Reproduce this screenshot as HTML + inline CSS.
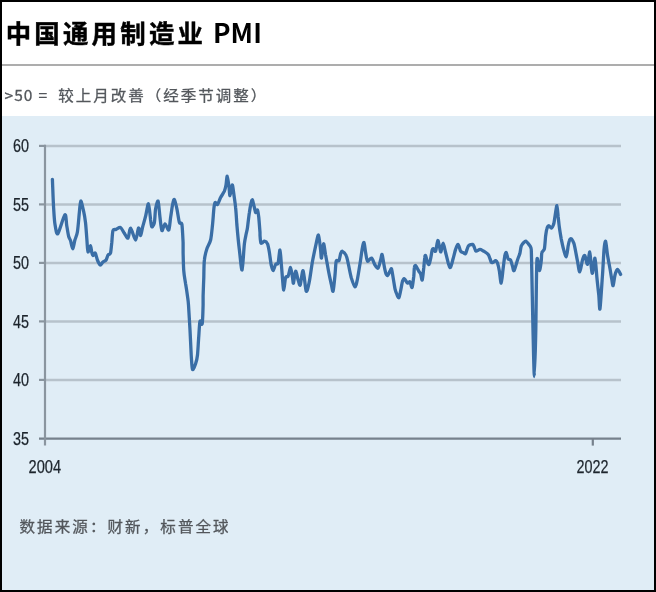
<!DOCTYPE html>
<html lang="zh-CN">
<head>
<meta charset="utf-8">
<title>中国通用制造业 PMI</title>
<style>
html,body{margin:0;padding:0;}
body{width:656px;height:592px;overflow:hidden;background:#000;position:relative;font-family:"Liberation Sans","Noto Sans CJK SC",sans-serif;}
#frame{position:absolute;left:2px;top:2px;width:652px;height:588px;background:#fff;overflow:hidden;}
#title{position:absolute;left:3.7px;top:9.8px;margin:0;font-family:"Noto Sans CJK SC","Liberation Sans",sans-serif;font-weight:700;font-size:25.4px;line-height:40px;color:#000;white-space:nowrap;letter-spacing:3.25px;-webkit-text-stroke:0.45px #000;}
#title span{font-size:26.3px;letter-spacing:0.15px;margin-left:-2.3px;-webkit-text-stroke:0;position:relative;top:0.4px;}
#rule{position:absolute;left:0;top:62px;width:652px;height:2px;background:#adadad;}
#sub{transform:scaleY(0.93);transform-origin:0 50%;font-weight:400;-webkit-text-stroke:0.3px #53575c;position:absolute;left:2.6px;top:79.8px;margin:0;font-family:"Noto Sans CJK SC","Liberation Sans",sans-serif;font-size:15.5px;line-height:24px;color:#53575c;letter-spacing:2px;white-space:nowrap;}
#sub span{letter-spacing:0.95px;margin-right:4.6px;word-spacing:0.9px;}
#chart{position:absolute;left:0;top:114px;width:652px;height:474px;background:#e0edf6;}
#chart svg{position:absolute;left:-2px;top:-116px;}
#src{transform:scaleY(0.93);transform-origin:0 50%;font-weight:400;-webkit-text-stroke:0.3px #53575c;position:absolute;left:17.5px;top:511.3px;margin:0;font-family:"Noto Sans CJK SC","Liberation Sans",sans-serif;font-size:15.5px;line-height:24px;color:#53575c;letter-spacing:2.1px;white-space:nowrap;}
.ax{font-family:"Liberation Sans",sans-serif;font-size:18px;fill:#1c242c;stroke:#1c242c;stroke-width:0.25px;}
</style>
</head>
<body>
<div id="frame">
<h1 id="title">中国通用制造业 <span>PMI</span></h1>
<div id="rule"></div>
<p id="sub"><span>&gt;50 =</span> 较上月改善（经季节调整）</p>
<div id="chart">
<svg width="656" height="592" viewBox="0 0 656 592">
<g stroke="#b7c2cb" stroke-width="2.5">
<line x1="45" y1="145.9" x2="621" y2="145.9"/>
<line x1="45" y1="204.4" x2="621" y2="204.4"/>
<line x1="45" y1="262.9" x2="621" y2="262.9"/>
<line x1="45" y1="321.4" x2="621" y2="321.4"/>
<line x1="45" y1="379.9" x2="621" y2="379.9"/>
</g>
<g stroke="#8a959f" stroke-width="2.2">
<line x1="39" y1="145.9" x2="45" y2="145.9"/>
<line x1="39" y1="204.4" x2="45" y2="204.4"/>
<line x1="39" y1="262.9" x2="45" y2="262.9"/>
<line x1="39" y1="321.4" x2="45" y2="321.4"/>
<line x1="39" y1="379.9" x2="45" y2="379.9"/>
<line x1="39" y1="438.7" x2="621" y2="438.7" stroke="#76818c" stroke-width="2.2"/>
<line x1="45" y1="144.7" x2="45" y2="445.6"/>
<line x1="592.8" y1="438" x2="592.8" y2="445.6" stroke="#76818c"/>
</g>
<g class="ax" text-anchor="end">
<text x="29" y="152" textLength="16" lengthAdjust="spacingAndGlyphs">60</text>
<text x="29" y="210.5" textLength="16" lengthAdjust="spacingAndGlyphs">55</text>
<text x="29" y="269" textLength="16" lengthAdjust="spacingAndGlyphs">50</text>
<text x="29" y="327.5" textLength="16" lengthAdjust="spacingAndGlyphs">45</text>
<text x="29" y="386" textLength="16" lengthAdjust="spacingAndGlyphs">40</text>
<text x="29" y="444.5" textLength="16" lengthAdjust="spacingAndGlyphs">35</text>
</g>
<g class="ax" text-anchor="middle">
<text x="44.8" y="473.4" textLength="32.5" lengthAdjust="spacingAndGlyphs">2004</text>
<text x="592.6" y="473.4" textLength="32" lengthAdjust="spacingAndGlyphs">2022</text>
</g>
<path id="pmi" fill="none" stroke="#3a6ea6" stroke-width="3.3" stroke-linejoin="round" stroke-linecap="round" d="M52.4,179.4C52.6,183.3 53.2,201.3 53.6,207.5C54.0,213.7 54.3,220.1 54.9,223.8C55.5,227.4 56.4,235.0 57.8,233.8C59.1,232.5 63.6,215.8 64.9,214.7C66.2,213.6 66.2,223.0 66.8,226.0C67.3,229.0 68.1,234.2 68.6,236.2C69.1,238.3 69.9,238.8 70.5,240.6C71.1,242.3 72.1,248.8 72.8,248.8C73.4,248.7 74.2,242.3 74.9,240.0C75.6,237.7 76.8,235.6 77.4,232.0C78.0,228.4 78.8,218.3 79.2,214.0C79.7,209.7 80.1,201.4 80.8,201.0C81.4,200.6 82.9,208.2 83.6,211.2C84.3,214.3 85.0,218.3 85.5,222.5C86.0,226.7 86.7,237.1 87.0,241.2C87.3,245.4 87.5,251.3 88.0,251.9C88.5,252.5 90.0,245.5 90.5,245.6C91.0,245.7 91.4,251.1 91.8,252.5C92.1,253.9 92.5,255.5 93.0,255.6C93.5,255.7 94.6,252.5 95.2,253.1C95.9,253.7 96.7,258.3 97.4,260.0C98.1,261.7 99.5,264.7 100.2,265.0C101.0,265.3 102.2,262.6 103.0,261.9C103.8,261.2 105.4,261.0 106.1,260.0C106.8,259.0 107.4,256.0 108.0,255.0C108.6,254.0 110.0,254.8 110.5,253.1C111.0,251.3 111.4,245.7 111.8,242.5C112.1,239.3 112.4,232.4 113.0,230.6C113.6,228.8 115.0,229.8 116.1,229.4C117.1,229.0 119.4,227.0 120.5,227.5C121.6,228.0 123.2,231.6 124.2,233.1C125.3,234.6 127.1,238.8 128.0,238.1C128.9,237.4 129.6,227.9 130.6,228.1C131.7,228.4 134.5,240.0 135.6,240.0C136.7,240.0 137.8,228.7 138.5,228.1C139.2,227.5 140.1,235.7 140.6,235.6C141.2,235.5 141.8,230.2 142.5,227.5C143.2,224.8 144.8,219.6 145.6,216.2C146.5,212.9 147.8,203.2 148.5,203.8C149.2,204.3 150.2,216.8 150.6,220.0C151.1,223.2 151.3,226.5 151.9,226.9C152.4,227.2 153.8,225.0 154.4,222.5C154.9,220.0 155.1,211.7 155.6,208.8C156.2,205.8 157.5,200.0 158.1,201.2C158.7,202.5 159.5,213.4 160.0,217.5C160.5,221.6 161.2,229.8 161.9,230.6C162.6,231.5 164.0,223.8 165.0,223.8C166.0,223.7 168.0,230.9 168.8,230.0C169.5,229.1 170.1,221.0 170.6,217.5C171.2,214.0 172.0,207.5 172.5,205.0C173.0,202.5 173.8,198.8 174.4,199.4C175.0,199.9 176.2,205.5 176.9,208.8C177.6,212.0 178.7,220.3 179.4,222.5C180.1,224.7 181.3,221.6 181.9,224.4C182.4,227.2 182.9,238.6 183.1,242.5C183.1,246.4 183.1,248.5 183.1,252.5C183.2,256.5 183.4,266.9 183.8,271.2C184.1,275.6 185.1,280.2 185.6,283.8C186.2,287.2 187.1,293.3 187.5,296.2C187.9,299.2 188.2,300.3 188.5,305.0C188.8,309.7 189.6,323.0 190.0,330.0C190.4,337.0 190.9,349.5 191.2,355.0C191.6,360.5 191.9,368.1 192.5,369.4C193.1,370.6 194.9,365.8 195.6,363.8C196.3,361.7 197.1,358.9 197.5,355.0C197.9,351.1 198.4,341.0 198.8,336.2C199.1,331.5 199.5,323.0 200.0,321.2C200.5,319.5 201.8,326.0 202.2,323.8C202.7,321.5 203.0,308.9 203.1,305.0C203.1,301.1 203.1,300.1 203.1,296.2C203.2,292.4 203.6,282.6 203.8,277.5C203.9,272.4 203.9,264.0 204.4,260.0C204.8,256.0 206.0,251.6 206.9,248.8C207.8,245.9 209.8,243.3 210.6,240.0C211.4,236.7 212.0,229.6 212.5,225.0C213.0,220.4 213.6,210.7 214.0,207.5C214.4,204.3 214.8,202.9 215.2,202.5C215.7,202.1 216.7,205.1 217.5,204.4C218.3,203.7 219.7,199.3 220.6,197.5C221.6,195.7 223.6,193.0 224.4,191.2C225.1,189.5 225.6,187.1 226.0,185.0C226.4,182.9 226.8,176.0 227.2,176.2C227.7,176.5 228.6,184.2 229.0,186.9C229.4,189.6 229.5,195.9 230.0,195.6C230.5,195.4 231.7,185.3 232.2,185.0C232.8,184.7 233.3,190.6 233.8,193.8C234.2,196.9 235.2,203.1 235.6,207.5C236.1,211.9 236.7,222.6 236.9,225.0C236.9,227.4 236.9,221.5 236.9,225.0C237.2,228.5 238.6,243.7 239.4,250.0C240.1,256.3 241.4,270.9 242.1,270.0C242.8,269.1 243.8,248.8 244.4,243.8C245.0,238.7 245.8,236.0 246.2,233.8C246.7,231.5 247.1,230.5 247.5,227.5C247.9,224.5 248.8,216.0 249.4,212.5C249.9,209.0 250.8,204.2 251.2,202.5C251.7,200.8 252.1,199.3 252.5,200.0C252.9,200.7 253.9,205.8 254.4,207.5C254.8,209.2 255.2,212.2 255.6,212.5C256.1,212.8 257.1,209.3 257.5,210.0C257.9,210.7 258.4,214.3 258.8,217.5C259.1,220.7 259.8,230.1 260.0,232.5C260.0,234.9 260.0,233.5 260.0,235.0C260.1,236.5 260.4,242.2 261.0,243.1C261.6,244.0 263.5,241.2 264.4,241.2C265.3,241.3 266.8,242.2 267.5,243.8C268.2,245.3 268.9,249.5 269.4,252.5C269.9,255.5 270.7,262.5 271.2,265.0C271.8,267.5 272.5,270.7 273.1,270.6C273.7,270.5 274.9,265.4 275.6,264.4C276.3,263.3 277.5,265.1 278.1,263.1C278.7,261.1 279.5,249.6 280.0,250.0C280.5,250.4 281.1,262.2 281.5,266.2C281.9,270.3 282.2,275.4 282.5,278.8C282.8,282.1 283.3,290.2 283.8,290.0C284.2,289.8 285.0,279.4 285.6,277.5C286.2,275.6 287.4,277.6 288.1,276.2C288.8,274.9 290.0,267.3 290.6,267.5C291.2,267.7 292.1,275.3 292.5,277.5C292.9,279.7 293.1,284.0 293.5,283.1C293.9,282.2 295.0,271.7 295.6,271.2C296.3,270.8 297.5,278.1 298.1,280.0C298.8,281.9 299.6,286.3 300.2,285.0C300.9,283.7 302.3,269.8 303.1,270.6C304.0,271.5 305.4,289.8 306.2,291.2C307.1,292.7 308.5,285.4 309.4,281.2C310.2,277.1 311.6,266.1 312.5,261.2C313.4,256.4 314.8,249.9 315.6,246.2C316.5,242.6 317.8,234.5 318.5,235.0C319.2,235.5 320.2,246.8 320.6,250.0C321.0,253.2 321.1,259.0 321.5,258.1C321.9,257.2 322.9,244.2 323.5,243.8C324.1,243.3 324.9,251.0 325.6,255.0C326.4,259.0 328.0,268.5 328.8,272.5C329.5,276.5 330.6,281.1 331.2,283.8C331.9,286.4 332.6,292.5 333.1,291.2C333.6,290.0 334.6,279.2 335.0,275.0C335.4,270.8 335.7,263.3 336.2,261.2C336.8,259.2 338.4,261.7 339.0,260.6C339.6,259.6 340.2,255.1 340.6,253.8C341.1,252.4 341.5,251.0 342.2,251.2C343.0,251.5 345.3,253.5 346.2,255.6C347.2,257.7 348.1,263.2 348.8,266.2C349.4,269.3 350.4,274.6 351.2,277.5C352.1,280.4 354.1,286.7 355.0,286.9C355.9,287.1 356.8,282.0 357.5,278.8C358.2,275.5 359.3,267.9 360.0,263.8C360.7,259.6 361.7,251.7 362.2,248.8C362.8,245.8 363.5,242.0 364.0,242.5C364.5,243.0 365.1,249.9 365.6,252.5C366.1,255.1 366.7,260.5 367.5,261.2C368.3,262.0 370.4,257.6 371.5,258.1C372.6,258.6 374.1,263.6 375.0,265.0C375.9,266.4 377.3,268.8 378.1,268.1C378.9,267.4 380.1,261.9 380.6,260.0C381.2,258.1 381.7,253.8 382.1,254.4C382.6,254.9 383.3,261.2 383.8,263.8C384.2,266.3 385.1,270.8 385.6,272.5C386.1,274.2 386.9,275.8 387.5,275.6C388.1,275.4 389.4,272.2 390.0,271.2C390.6,270.3 391.1,267.9 391.5,268.8C391.9,269.6 392.6,274.7 393.1,277.5C393.6,280.3 394.5,286.4 395.0,288.8C395.5,291.1 396.3,293.1 396.9,294.4C397.4,295.6 398.4,298.3 399.0,297.5C399.6,296.7 400.5,291.0 401.0,288.8C401.5,286.5 402.0,282.6 402.5,281.2C403.0,279.9 403.7,278.5 404.4,278.8C405.1,279.0 406.7,282.7 407.5,283.1C408.3,283.6 409.4,281.3 410.0,281.9C410.6,282.5 411.6,288.3 412.1,287.5C412.6,286.7 413.4,279.1 413.8,276.2C414.1,273.4 414.1,269.0 414.4,267.5C414.6,266.0 415.0,265.1 415.6,265.6C416.2,266.1 418.1,270.1 418.8,271.2C419.4,272.4 420.1,272.5 420.6,273.8C421.1,275.0 421.8,280.9 422.2,280.0C422.7,279.1 423.4,270.6 423.8,267.5C424.1,264.4 424.5,259.2 424.8,257.5C425.0,255.8 425.2,254.9 425.6,255.6C426.0,256.3 427.0,261.3 427.5,262.5C428.0,263.7 428.6,264.9 429.0,264.4C429.4,263.9 430.2,260.8 430.6,258.8C431.1,256.7 431.8,251.4 432.2,250.0C432.7,248.6 433.3,248.6 433.8,248.8C434.2,248.9 435.1,252.4 435.6,251.2C436.2,250.1 437.2,241.3 437.8,240.6C438.3,239.9 438.9,244.7 439.4,246.2C439.8,247.8 440.4,252.3 440.9,251.9C441.4,251.4 442.5,243.0 443.1,243.1C443.8,243.2 444.9,249.8 445.6,252.5C446.3,255.2 447.5,260.4 448.1,262.5C448.8,264.6 449.7,268.0 450.4,267.5C451.1,267.0 452.4,261.3 453.1,258.8C453.9,256.2 454.9,251.4 455.6,249.4C456.3,247.4 457.4,244.1 458.1,244.4C458.8,244.6 459.9,250.1 460.6,251.2C461.3,252.4 462.5,252.2 463.1,252.5C463.8,252.8 464.9,254.1 465.4,253.8C465.9,253.4 466.4,251.1 466.9,250.0C467.3,248.9 467.9,246.4 468.8,245.6C469.6,244.8 472.0,244.1 472.8,244.4C473.5,244.6 473.9,246.5 474.4,247.5C474.8,248.5 475.2,251.0 476.0,251.2C476.8,251.5 478.9,249.4 480.0,249.4C481.1,249.4 482.6,250.6 483.8,251.2C484.9,251.9 487.2,253.3 488.1,254.4C489.0,255.4 489.5,257.6 490.0,258.8C490.5,259.9 491.0,262.1 491.5,262.5C492.0,262.9 493.2,262.1 493.8,261.9C494.3,261.6 495.1,260.4 495.6,260.6C496.1,260.8 497.0,261.6 497.5,263.1C498.0,264.6 498.9,268.4 499.4,271.2C499.9,274.1 500.7,283.5 501.2,283.1C501.8,282.8 502.6,272.5 503.1,268.8C503.6,265.0 504.3,258.5 504.8,256.2C505.2,254.0 505.8,252.2 506.2,252.5C506.7,252.8 507.5,257.7 508.1,258.8C508.7,259.8 510.0,258.9 510.6,260.0C511.2,261.1 512.0,264.8 512.5,266.2C513.0,267.7 513.4,271.5 514.1,270.6C514.8,269.8 516.7,262.4 517.5,260.0C518.3,257.6 519.2,255.7 519.8,253.8C520.3,251.8 520.7,247.8 521.2,246.2C521.8,244.7 523.1,243.2 523.8,242.5C524.4,241.8 525.3,241.0 526.0,241.2C526.7,241.5 528.0,243.4 528.8,244.4C529.5,245.3 530.6,246.3 531.0,248.1C531.4,250.0 531.2,246.0 531.5,257.5C531.8,269.0 532.6,313.3 533.0,330.0C533.4,346.7 534.0,376.5 534.4,376.5C534.8,376.5 535.5,346.2 535.8,330.0C536.1,313.8 536.4,268.9 536.9,260.6C537.4,252.3 538.8,270.5 539.4,270.6C540.0,270.7 540.9,263.8 541.2,261.2C541.6,258.7 541.4,254.2 541.9,252.5C542.3,250.8 543.9,251.0 544.4,248.8C544.9,246.5 545.3,239.1 545.6,236.2C546.0,233.4 546.4,230.2 546.9,228.8C547.3,227.3 548.1,225.7 548.8,225.6C549.4,225.5 550.8,228.4 551.5,228.1C552.2,227.9 553.2,225.6 553.8,223.8C554.3,221.9 554.8,217.5 555.2,215.0C555.7,212.5 556.5,205.4 556.9,205.6C557.3,205.8 557.8,213.2 558.1,216.2C558.5,219.3 558.9,224.3 559.4,227.5C559.8,230.7 560.7,235.9 561.2,238.8C561.8,241.6 562.4,245.0 563.1,247.5C563.8,250.0 565.5,257.1 566.2,256.9C567.0,256.7 567.7,248.5 568.1,246.2C568.6,244.0 568.9,241.7 569.4,240.6C569.8,239.6 570.6,238.4 571.2,238.8C571.9,239.1 573.1,241.4 573.8,243.1C574.4,244.9 575.1,248.7 575.6,251.2C576.1,253.8 576.9,258.4 577.5,261.2C578.1,264.1 579.0,272.1 579.8,271.9C580.5,271.7 581.8,262.3 582.5,260.0C583.2,257.7 584.0,255.0 584.8,255.6C585.5,256.2 586.8,264.9 587.5,264.4C588.2,263.9 589.2,251.6 589.8,251.9C590.3,252.1 590.9,263.3 591.2,266.2C591.6,269.2 592.0,274.3 592.5,273.1C593.0,272.0 594.4,257.5 595.0,258.1C595.6,258.7 596.4,272.3 596.9,277.5C597.4,282.7 598.3,290.6 598.8,295.0C599.2,299.4 599.5,311.5 600.0,308.7C600.5,305.9 601.9,283.2 602.5,275.0C603.1,266.8 603.6,254.7 604.0,250.0C604.4,245.3 605.1,240.6 605.6,241.2C606.1,241.9 606.9,251.2 607.5,255.0C608.1,258.9 609.4,265.2 610.0,268.8C610.6,272.2 611.4,277.6 611.9,280.0C612.3,282.4 612.7,286.3 613.1,285.6C613.6,284.9 614.4,277.3 615.0,275.0C615.6,272.7 616.7,269.5 617.5,269.4C618.3,269.3 620.2,273.7 620.6,274.4"/>
</svg>
</div>
<p id="src">数据来源：财新，标普全球</p>
</div>
</body>
</html>
